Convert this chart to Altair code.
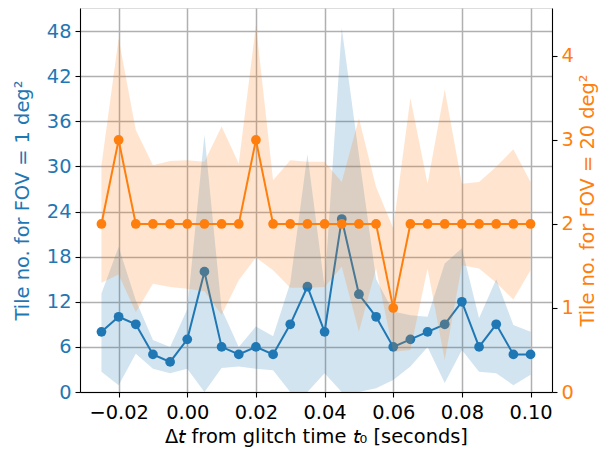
import altair as alt
import pandas as pd

x_vals = [-0.025, -0.02, -0.015, -0.01, -0.005, 0.0, 0.005, 0.01, 0.015, 0.02,
          0.025, 0.03, 0.035, 0.04, 0.045, 0.05, 0.055, 0.06, 0.065, 0.07,
          0.075, 0.08, 0.085, 0.09, 0.095, 0.1]

blue_mean = [8, 10, 9, 5, 4, 7, 16, 6, 5, 6, 5, 9, 14, 8, 23, 13, 10, 6, 7, 8, 9, 12, 6, 9, 5, 5]
blue_hi = [13.1, 19.3, 12.2, 6.9, 6.0, 11.0, 34.2, 11.0, 6.0, 8.7, 7.4, 14.5, 31.6, 14.0,
           48.4, 31.5, 15.0, 10.7, 10.2, 10.0, 17.1, 19.1, 9.8, 15.0, 8.9, 8.0]
blue_lo = [2.7, 0.9, 5.1, 3.1, 2.5, 3.1, 0.0, 3.2, 3.4, 3.1, 2.9, 0.0, 0.0, 2.5,
           0.0, 0.0, 0.5, 1.6, 3.4, 6.0, 1.2, 5.6, 2.7, 2.5, 0.9, 2.3]

orange_mean = [2, 3, 2, 2, 2, 2, 2, 2, 2, 3, 2, 2, 2, 2, 2, 2, 2, 1, 2, 2, 2, 2, 2, 2, 2, 2]
orange_hi = [2.70, 4.21, 3.12, 2.70, 2.75, 2.76, 2.74, 3.16, 2.72, 4.37, 2.52, 2.76, 2.74,
             2.74, 2.50, 3.26, 2.44, 1.95, 3.50, 2.48, 3.60, 2.48, 2.50, 2.68, 2.89, 2.50]
orange_lo = [1.30, 1.40, 0.95, 1.29, 1.25, 1.23, 1.20, 0.92, 1.33, 1.60, 1.45, 1.24, 1.24,
             1.25, 1.49, 0.72, 1.47, 0.48, 0.50, 1.47, 0.38, 1.51, 1.47, 1.30, 1.10, 1.45]

x_ticks = [-0.02, 0.0, 0.02, 0.04, 0.06, 0.08, 0.1]
left_ticks = [0, 6, 12, 18, 24, 30, 36, 42, 48]
right_ticks = [0, 1, 2, 3, 4]

df = pd.DataFrame({
    "x": x_vals,
    "blue": blue_mean, "blue_hi": blue_hi, "blue_lo": blue_lo,
    "orange": orange_mean, "orange_hi": orange_hi, "orange_lo": orange_lo,
})

BLUE = "#1f77b4"
ORANGE = "#ff7f0e"
FONT = "DejaVu Sans"
FS = 19.4
GRID = "#b0b0b0"

xenc = alt.X(
    "x:Q",
    scale=alt.Scale(domain=[-0.03125, 0.10625], nice=False, zero=False),
    axis=alt.Axis(
        values=x_ticks, format=".2f",
        title="Δ𝘵 from glitch time 𝘵₀ [seconds]",
        grid=True, gridColor=GRID, gridWidth=1.5,
        labelFontSize=FS, titleFontSize=FS, labelFont=FONT, titleFont=FONT,
        titleFontWeight="normal", labelColor="black", titleColor="black",
        tickSize=5, tickColor="black", tickWidth=1.1,
        domainColor="black", domainWidth=1.1, labelPadding=6, titlePadding=6,
        labelFlush=False,
    ),
)

base = alt.Chart(df).encode(x=xenc)

yb_scale = alt.Scale(domain=[0, 51.06], nice=False, zero=False)
yo_scale = alt.Scale(domain=[0, 4.571], nice=False, zero=False)

left_axis = alt.Axis(
    values=left_ticks, title="Tile no. for FOV = 1 deg²", orient="left",
    grid=True, gridColor=GRID, gridWidth=1.5,
    labelFontSize=FS, titleFontSize=FS, labelFont=FONT, titleFont=FONT,
    titleFontWeight="normal", labelColor=BLUE, titleColor=BLUE,
    tickSize=5, tickColor="black", tickWidth=1.1,
    domainColor="black", domainWidth=1.1, labelPadding=4, titlePadding=14,
    labelFlush=False,
)
right_axis = alt.Axis(
    values=right_ticks, format="d", title="Tile no. for FOV = 20 deg²", orient="right",
    grid=False,
    labelFontSize=FS, titleFontSize=FS, labelFont=FONT, titleFont=FONT,
    titleFontWeight="normal", labelColor=ORANGE, titleColor=ORANGE,
    tickSize=5, tickColor="black", tickWidth=1.1,
    domainColor="black", domainWidth=1.1, labelPadding=4, titlePadding=5,
    titleAngle=270, titleBaseline="top", labelFlush=False,
)

blue_area = base.mark_area(color=BLUE, opacity=0.2).encode(
    y=alt.Y("blue_hi:Q", scale=yb_scale, axis=left_axis), y2="blue_lo:Q")
blue_line = base.mark_line(color=BLUE, strokeWidth=2).encode(y="blue:Q")
blue_pts = base.mark_circle(color=BLUE, size=95, opacity=1).encode(y="blue:Q")

orange_area = base.mark_area(color=ORANGE, opacity=0.2).encode(
    y=alt.Y("orange_hi:Q", scale=yo_scale, axis=right_axis), y2="orange_lo:Q")
orange_line = base.mark_line(color=ORANGE, strokeWidth=2).encode(y="orange:Q")
orange_pts = base.mark_circle(color=ORANGE, size=95, opacity=1).encode(y="orange:Q")

blue_layer = alt.layer(blue_area, blue_line, blue_pts)
orange_layer = alt.layer(orange_area, orange_line, orange_pts)

chart = alt.layer(blue_layer, orange_layer).resolve_scale(y="independent").properties(
    width=472, height=384,
    autosize=alt.AutoSizeParams(type="none"),
    padding={"left": 72, "top": 0, "right": 48, "bottom": 60},
).configure_view(stroke="black", strokeWidth=1.1).configure(background="white")

chart.save("out.html", embed_options={"renderer": "svg", "actions": False})
